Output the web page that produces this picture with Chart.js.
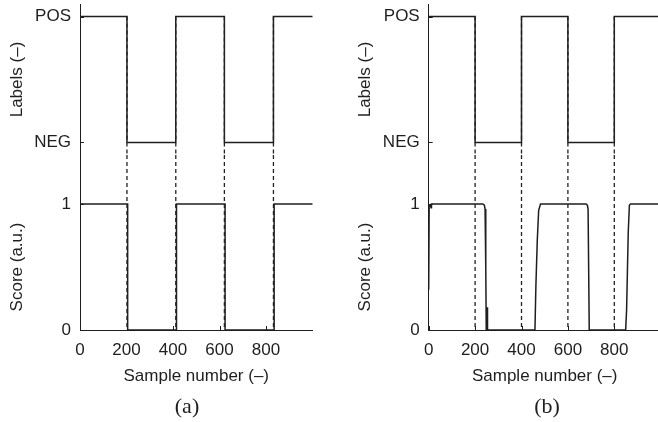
<!DOCTYPE html>
<html>
<head>
<meta charset="utf-8">
<script src="https://cdn.jsdelivr.net/npm/chart.js@4/dist/chart.umd.min.js"></script>
<style>
  html, body { margin: 0; padding: 0; background: #fff; }
  body { width: 658px; height: 422px; overflow: hidden; position: relative; }
  .panel { position: absolute; top: 0; }
  .tag { position: absolute; top: 393px; font-family: 'Liberation Serif', 'Times New Roman', serif;
         font-size: 22px; color: #1e1e1e; transform: translateX(-50%); line-height: 26px; }
</style>
</head>
<body>
<canvas id="panelA" class="panel" style="left:0px" width="330" height="422"></canvas>
<canvas id="panelB" class="panel" style="left:330px" width="340" height="422"></canvas>
<div class="tag" style="left:187px">(a)</div>
<div class="tag" style="left:547px">(b)</div>
<script>
// Shared axis content
const xTicks = [0, 200, 400, 600, 800];
const labelNames = ['NEG', 'POS'];
const scoreTicks = [0, 1];

// Panel (a): class labels and detector score, both step signals
const labelStartsA = [0, 202, 412, 621, 832, 1000];
const labelLevelsA = [1, 0, 1, 0, 1, 1];
const scoreStartsA = [0, 205, 415, 624, 835, 1000];
const scoreLevelsA = [1, 0, 1, 0, 1, 1];
const boundariesA = [202, 412, 621, 832];

// Panel (b): class labels and a smoother, lagging score
const labelStartsB = [0, 200, 400, 600, 800, 1000];
const labelLevelsB = [1, 0, 1, 0, 1, 1];
const scoreXB = [0, 2, 8, 10, 12, 233, 240, 243, 246, 248, 252, 253, 254, 458, 462, 468, 474, 482, 678, 684, 687, 692, 849, 853, 860, 865, 870, 1000];
const scoreYB = [0.32, 0.99, 0.99, 0.97, 1.0, 1.0, 0.99, 0.96, 0.5, 0.0, 0.0, 0.18, 0.0, 0.0, 0.35, 0.71, 0.95, 1.0, 1.0, 0.99, 0.96, 0.0, 0.0, 0.16, 0.77, 0.99, 1.0, 1.0];
const boundariesB = [200, 400, 600, 800];

const INK = '#1e1e1e';
Chart.defaults.font.family = "'Liberation Sans', Arial, Helvetica, sans-serif";
Chart.defaults.font.size = 17;
Chart.defaults.color = INK;

const toPoints = (xs, ys) => xs.map((x, i) => ({ x: x, y: ys[i] }));

// vertical guide lines at each class boundary, from yTop down to yBottom of one axis
function guides(bounds, yTop, yBottom) {
  const pts = [];
  bounds.forEach(b => { pts.push({ x: b, y: yTop }, { x: b, y: yBottom }, { x: b, y: null }); });
  return pts;
}

// MATLAB-style ticks pointing into the plot
const inwardTicks = {
  id: 'inwardTicks',
  afterDatasetsDraw(chart) {
    const ctx = chart.ctx;
    ctx.save();
    ctx.strokeStyle = INK;
    ctx.lineWidth = 1;
    Object.values(chart.scales).forEach(s => {
      s.ticks.forEach(t => {
        const p = Math.round(s.getPixelForValue(t.value)) + 0.5;
        ctx.beginPath();
        if (s.isHorizontal()) { ctx.moveTo(p, s.top); ctx.lineTo(p, s.top - 4); }
        else { ctx.moveTo(s.right, p); ctx.lineTo(s.right + 4, p); }
        ctx.stroke();
      });
    });
    ctx.restore();
  }
};

function yAxis(weight, min, max, tickVals, fmt, title, titlePad) {
  return {
    type: 'linear', position: 'left', stack: 'left', stackWeight: weight,
    min: min, max: max,
    afterBuildTicks: s => { s.ticks = tickVals.map(v => ({ value: v })); },
    afterFit: s => { s.width = 80; s.paddingTop = 0; s.paddingBottom = 0; },
    grid: { display: false, drawTicks: false },
    border: { display: true, color: INK, width: 1 },
    ticks: { display: tickVals.length > 0, padding: 9, callback: fmt },
    title: { display: !!title, text: title || '', padding: { top: titlePad, bottom: 0 } }
  };
}

function makePanel(id, labelPts, scorePts, bounds, pad, titlePad, xEnd) {
  const solid = { borderColor: INK, borderWidth: 1.5, pointRadius: 0, tension: 0, fill: false, clip: false };
  const dash = { borderColor: '#222', borderWidth: 1.3, borderDash: [4, 3], pointRadius: 0, fill: false, clip: false };
  return new Chart(document.getElementById(id), {
    type: 'line',
    data: {
      datasets: [
        Object.assign({ data: guides(bounds, 1, -0.1), yAxisID: 'yLab' }, dash),
        Object.assign({ data: guides(bounds, 1, 0), yAxisID: 'yGap' }, dash),
        Object.assign({ data: guides(bounds, 1, 0), yAxisID: 'yScore' }, dash),
        Object.assign({ data: labelPts, yAxisID: 'yLab', stepped: true }, solid),
        Object.assign({ data: scorePts.pts, yAxisID: 'yScore', stepped: scorePts.stepped }, solid)
      ]
    },
    options: {
      responsive: false,
      animation: false,
      events: [],
      layout: { padding: pad },
      plugins: { legend: { display: false }, tooltip: { enabled: false }, title: { display: false } },
      scales: {
        x: {
          type: 'linear', position: 'bottom', min: 0, max: xEnd,
          afterBuildTicks: s => { s.ticks = xTicks.map(v => ({ value: v })); },
          afterFit: s => { s.height = 92; s.paddingLeft = 0; s.paddingRight = 0; },
          grid: { display: false, drawTicks: false },
          border: { display: true, color: INK, width: 1 },
          ticks: { padding: 10, maxRotation: 0, autoSkip: false },
          title: { display: true, text: 'Sample number (–)', padding: { top: 0, bottom: 35 } }
        },
        // stacked left axes are laid out bottom-up in the order listed
        yScore: yAxis(126, 0, 1, scoreTicks, v => String(v), 'Score (a.u.)', titlePad),
        yGap: yAxis(49, 0, 1, [], () => '', '', 0),
        yLab: yAxis(151, -0.1, 1.1, [0, 1], v => labelNames[v], 'Labels (–)', titlePad)
      }
    },
    plugins: [inwardTicks]
  });
}

makePanel('panelA',
  toPoints(labelStartsA, labelLevelsA),
  { pts: toPoints(scoreStartsA, scoreLevelsA), stepped: true },
  boundariesA,
  { top: 4, left: 0, right: 17.5, bottom: 0 }, 7.6, 1000);

makePanel('panelB',
  toPoints(labelStartsB, labelLevelsB),
  { pts: toPoints(scoreXB, scoreYB), stepped: false },
  boundariesB,
  { top: 4, left: 18.7, right: 9.3, bottom: 0 }, 6.1, 1000);
</script>
</body>
</html>
